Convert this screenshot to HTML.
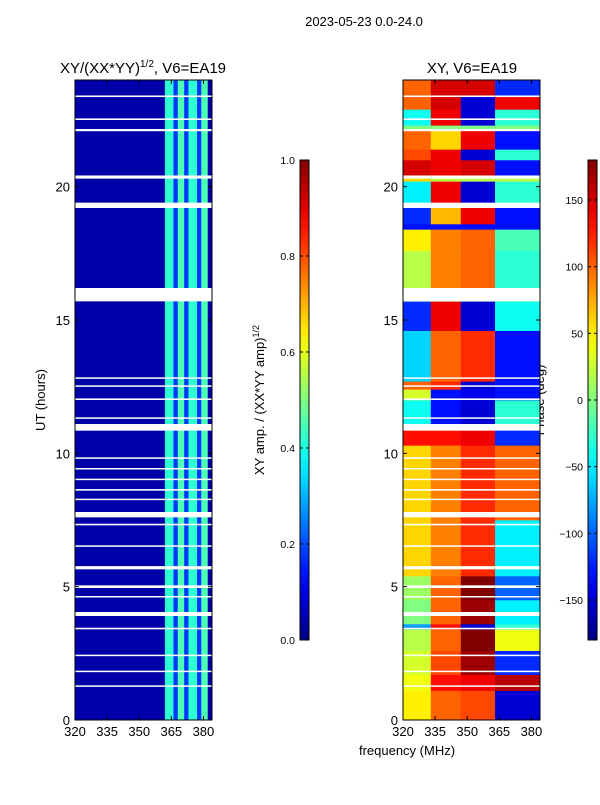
<!DOCTYPE html>
<html><head><meta charset="utf-8"><style>
body{margin:0;background:#fff;font-family:"Liberation Sans",sans-serif}
svg text{font-family:"Liberation Sans","DejaVu Sans",sans-serif}
</style></head><body>
<svg id="c" width="600" height="800" xmlns="http://www.w3.org/2000/svg">
<defs>
<linearGradient id="jetg" x1="0" y1="1" x2="0" y2="0"></linearGradient>
</defs>
<text x="364" y="26" font-size="13" text-anchor="middle">2023-05-23 0.0-24.0</text>
<text x="143" y="73" font-size="15" text-anchor="middle">XY/(XX*YY)<tspan font-size="10" dy="-6">1/2</tspan><tspan dy="6">, V6=EA19</tspan></text>
<text x="472" y="73" font-size="15" text-anchor="middle">XY, V6=EA19</text>
<text transform="translate(45,400) rotate(-90)" font-size="13" text-anchor="middle">UT (hours)</text>
<text x="407" y="755" font-size="13" text-anchor="middle">frequency (MHz)</text>
<text transform="translate(264,400) rotate(-90)" font-size="13" text-anchor="middle">XY amp. / (XX*YY amp)<tspan font-size="9" dy="-5">1/2</tspan></text>
<text transform="translate(544,400) rotate(-90)" font-size="13" text-anchor="middle">Phase (deg)</text>
<g id="lp"></g>
<g id="rp"></g>
<g id="ax"></g>
</svg>
<script>
const yTicks=[0,5,10,15,20];
const xTicks=[320,335,350,365,380];
const ampTicks=[0.0,0.2,0.4,0.6,0.8,1.0];
const phaseTicks=[-150,-100,-50,0,50,100,150];
const ampEdges=[320,362,366,368,371,373,377,379,382,384];
const ampVals=[0.04,0.42,0.18,0.45,0.18,0.42,0.18,0.45,0.04];
const gapStarts=[23.36,22.5,22.08,20.3,19.2,15.7,12.8,12.5,12.0,11.3,10.85,9.8,9.4,9.0,8.6,8.25,7.6,7.3,6.5,5.65,4.95,4.6,3.9,3.4,2.4,1.8,1.25];
const gapWidths=[0.06,0.06,0.08,0.12,0.2,0.5,0.05,0.05,0.06,0.05,0.25,0.05,0.05,0.05,0.06,0.05,0.2,0.06,0.05,0.12,0.1,0.05,0.15,0.06,0.05,0.05,0.05];
const phEdgesT=[0,1.1,1.7,2.6,3.4,3.6,4.5,5.4,7.5,10.3,11.1,12.0,12.4,12.7,14.6,15.7,16.0,17.6,18.4,18.6,19.3,20.2,20.4,21.0,21.4,22.1,22.3,22.9,23.4,24];
const phSegF=[320,333,347,363,384];
const phA=[50,40,30,20,-80,0,10,60,60,130,-40,30,100,-60,-120,0,20,50,-130,-120,-50,60,150,110,100,0,-40,100,100];
const phB=[100,130,110,100,130,100,100,90,90,130,-130,-130,120,100,140,0,90,90,-130,70,140,20,140,140,60,0,140,150,150];
const phC=[110,140,170,180,-150,170,180,120,120,140,-150,-140,-150,120,-150,0,100,100,-130,140,-150,20,150,-150,140,0,-150,-150,150];
const phD=[-150,160,-120,40,-30,-50,-100,-50,100,-120,-30,-130,-130,-130,-40,0,-30,-20,-130,-130,-30,20,-130,-30,-130,0,-30,140,-120];

const NS='http://www.w3.org/2000/svg';
const svg=document.getElementById('c');
function el(t,a,p){const e=document.createElementNS(NS,t);for(const k in a)e.setAttribute(k,a[k]);(p||svg).appendChild(e);return e;}
const Y0=720,Y1=80;
function yS(h){return Y0-(h/24)*(Y0-Y1);}
function xL(f){return 75+(f-320)*(137/64);}
function xR(f){return 403+(f-320)*(137/64);}
function cl(v){return Math.max(0,Math.min(1,v));}
function jet(x){const r=cl(1.5-Math.abs(4*x-3)),g=cl(1.5-Math.abs(4*x-2)),b=cl(1.5-Math.abs(4*x-1));return `rgb(${Math.round(r*255)},${Math.round(g*255)},${Math.round(b*255)})`;}
const gr=document.getElementById('jetg');
for(let i=0;i<=20;i++){el('stop',{offset:i/20,'stop-color':jet(i/20)},gr);}
const lp=document.getElementById('lp'),rp=document.getElementById('rp'),ax=document.getElementById('ax');
for(let i=0;i<ampVals.length;i++){
  const r=el('rect',{x:xL(ampEdges[i]),y:Y1,width:xL(ampEdges[i+1])-xL(ampEdges[i])+0.3,height:Y0-Y1,fill:jet(ampVals[i])},lp);
  
  
}
const segs=[phA,phB,phC,phD];
for(let t=0;t<phA.length;t++){
  for(let s=0;s<4;s++){
    const v=segs[s][t];
    const r=el('rect',{x:xR(phSegF[s]),y:yS(phEdgesT[t+1]),width:xR(phSegF[s+1])-xR(phSegF[s])+0.3,height:yS(phEdgesT[t])-yS(phEdgesT[t+1])+0.3,fill:jet((v+180)/360)},rp);
    
    
  }
}
for(let i=0;i<gapStarts.length;i++){
  for(const [g,x0] of [[lp,75],[rp,403]]){
    const r=el('rect',{x:x0,y:yS(gapStarts[i]+gapWidths[i]),width:137,height:Math.max(1.5,yS(gapStarts[i])-yS(gapStarts[i]+gapWidths[i])),fill:'#fff'},g);
    
    
  }
}
for(const [x0,fx] of [[75,xL],[403,xR]]){
  const f=el('rect',{x:x0,y:Y1,width:137,height:Y0-Y1,fill:'none',stroke:'#000','stroke-width':1},ax);
  
  
  for(const h of yTicks){
    const y=yS(h);
    el('line',{x1:x0,x2:x0+4,y1:y,y2:y,stroke:'#000'},ax);
    el('line',{x1:x0+137,x2:x0+133,y1:y,y2:y,stroke:'#000'},ax);
    const t=el('text',{x:x0-5,y:y+5,'font-size':13,'text-anchor':'end'},ax);t.textContent=h;
    
    
  }
  for(const f of xTicks){
    const x=fx(f);
    el('line',{x1:x,x2:x,y1:Y0,y2:Y0-4,stroke:'#000'},ax);
    el('line',{x1:x,x2:x,y1:Y1,y2:Y1+4,stroke:'#000'},ax);
    const t=el('text',{x:x,y:Y0+16,'font-size':13,'text-anchor':'middle'},ax);t.textContent=f;
    
    
  }
}
function cbar(x,lo,hi,ticks,fmt,name){
  const r=el('rect',{x:x,y:160,width:9,height:480,fill:'url(#jetg)',stroke:'#000','stroke-width':1},ax);
  
  
  for(const v of ticks){
    const y=640-(v-lo)/(hi-lo)*480;
    el('line',{x1:x,x2:x+3,y1:y,y2:y,stroke:'#000'},ax);
    el('line',{x1:x+9,x2:x+6,y1:y,y2:y,stroke:'#000'},ax);
    const t=el('text',{x:x-5,y:y+4,'font-size':10.5,'text-anchor':'end'},ax);t.textContent=fmt(v);
    
    
  }
}
cbar(300,0,1,ampTicks,v=>v.toFixed(1),'amp-colorbar');
cbar(588,-180,180,phaseTicks,v=>v<0?'\u2212'+(-v):String(v),'phase-colorbar');
</script>
</body></html>
